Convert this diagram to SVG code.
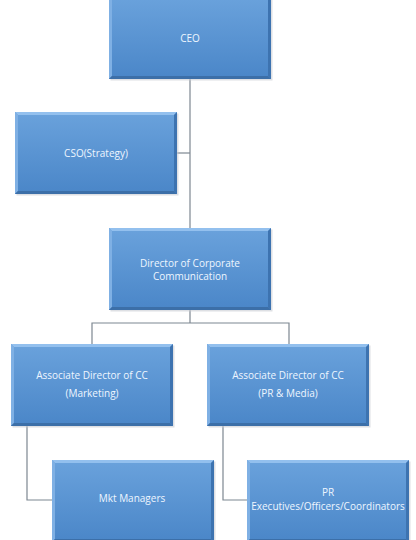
<svg xmlns="http://www.w3.org/2000/svg" xmlns:xlink="http://www.w3.org/1999/xlink" width="416" height="540" viewBox="0 0 416 540">
<style>
.lbl{font-family:"Open Sans","Liberation Sans",sans-serif;font-size:10px;fill:#eef6ff;text-anchor:middle}
.con{fill:none;stroke:#7d8791;stroke-width:1.2}
</style>
<defs>
<linearGradient id="g" x1="0" y1="0" x2="0" y2="1">
<stop offset="0" stop-color="#6aa2dc"/>
<stop offset="1" stop-color="#4a86c8"/>
</linearGradient>
<g id="box">
<rect x="1.5" y="1.5" width="162" height="82" fill="#c8ccd2" opacity="0.6"/>
<rect x="0" y="0" width="162" height="82" fill="url(#g)"/>
<polygon points="0,0 162,0 159,3 3,3" fill="#93c0ee"/>
<polygon points="0,0 3,3 3,79 0,82" fill="#7fb0e4"/>
<polygon points="162,0 162,82 159,79 159,3" fill="#3d73b0"/>
<polygon points="0,82 162,82 159,79 3,79" fill="#3c6fa8"/>
</g>
</defs>
<rect width="416" height="540" fill="#ffffff"/>
<g id="connectors">
<path class="con" d="M190,79 V228"/>
<path class="con" d="M176,153 H190"/>
<path class="con" d="M190,309 V323 M92,344 V323 H289 V344"/>
<path class="con" d="M27,426 V500 H52"/>
<path class="con" d="M223,426 V500 H247"/>
</g>
<g id="ceo"><use xlink:href="#box" x="109" y="-3"/><text class="lbl" x="190" y="42">CEO</text></g>
<g id="cso"><use xlink:href="#box" x="15" y="112"/><text class="lbl" x="96" y="157">CSO(Strategy)</text></g>
<g id="dcc"><use xlink:href="#box" x="109" y="228"/><text class="lbl" x="190" y="267">Director of Corporate</text><text class="lbl" x="190" y="280">Communication</text></g>
<g id="adm"><use xlink:href="#box" x="11" y="344"/><text class="lbl" x="92" y="379">Associate Director of CC</text><text class="lbl" x="92" y="397">(Marketing)</text></g>
<g id="adp"><use xlink:href="#box" x="207" y="344"/><text class="lbl" x="288" y="379">Associate Director of CC</text><text class="lbl" x="288" y="397">(PR &amp; Media)</text></g>
<g id="mkt"><use xlink:href="#box" x="52" y="460"/><text class="lbl" x="132" y="502">Mkt Managers</text></g>
<g id="pr"><use xlink:href="#box" x="247" y="460"/><text class="lbl" x="328" y="496">PR</text><text class="lbl" x="328" y="510">Executives/Officers/Coordinators</text></g>
</svg>
